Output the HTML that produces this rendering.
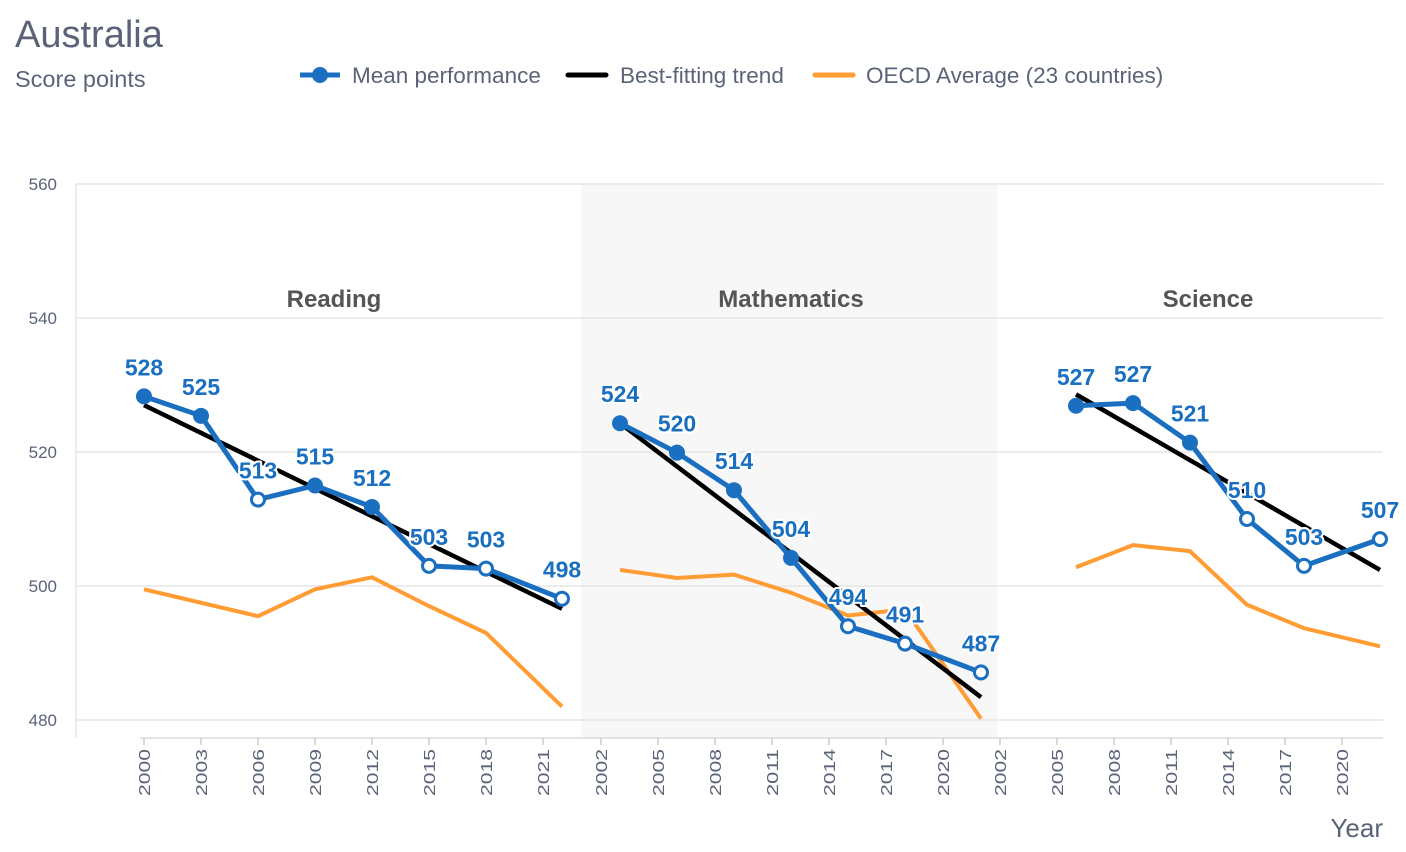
<!DOCTYPE html>
<html><head><meta charset="utf-8"><style>
body{margin:0;background:#fff;width:1406px;height:852px;overflow:hidden;font-family:"Liberation Sans",sans-serif}
svg{display:block}
</style></head><body>
<svg id="chart" width="1406" height="852" xmlns="http://www.w3.org/2000/svg" font-family="Liberation Sans, sans-serif">
<text x="15" y="47" font-size="38" fill="#5b6378">Australia</text>
<text x="15" y="87" font-size="23.5" fill="#5b6378">Score points</text>
<g>
<g><line x1="300" y1="75" x2="340" y2="75" stroke="#1a6fc0" stroke-width="5"/><circle cx="320" cy="75" r="8" fill="#1a6fc0"/><text x="352" y="83" font-size="22.5" fill="#5b6378">Mean performance</text></g>
<g><line x1="568" y1="75" x2="606" y2="75" stroke="#000" stroke-width="5" stroke-linecap="round"/><text x="620" y="83" font-size="22.5" fill="#5b6378">Best-fitting trend</text></g>
<g><line x1="815" y1="75" x2="853" y2="75" stroke="#ff9c33" stroke-width="5" stroke-linecap="round"/><text x="866" y="83" font-size="22.5" fill="#5b6378">OECD Average (23 countries)</text></g>
</g>
<rect x="581" y="184" width="417" height="554" fill="#f7f7f7"/>
<g id="grid"></g>
<g id="axes"></g>
<g id="series"></g>
<g id="labels"></g>
<text x="1383" y="837" font-size="26" fill="#5b6378" text-anchor="end">Year</text>
</svg>
<script>
const yTicks=[480,500,520,540,560];
const panelNames=["Reading","Mathematics","Science"];
const readYears=[2000,2003,2006,2009,2012,2015,2018,2022];
const readMean=[528.3,525.4,512.9,515,511.8,503,502.6,498.1];
const readSig=[1,1,0,1,1,0,0,0];
const readTrend=[527,496.6];
const readOecd=[499.5,497.5,495.5,499.5,501.3,497,493,482];
const mathYears=[2003,2006,2009,2012,2015,2018,2022];
const mathMean=[524.3,519.9,514.3,504.2,494,491.4,487.1];
const mathSig=[1,1,1,1,0,0,0];
const mathTrend=[524.3,483.4];
const mathOecd=[502.4,501.2,501.7,499,495.6,496.5,480.2];
const sciYears=[2006,2009,2012,2015,2018,2022];
const sciMean=[526.9,527.3,521.4,510,503,507];
const sciSig=[1,1,1,0,0,0];
const sciTrend=[528.6,502.4];
const sciOecd=[502.8,506.1,505.2,497.2,493.7,491];
const tickLabels=[[2000,2003,2006,2009,2012,2015,2018,2021],[2002,2005,2008,2011,2014,2017,2020],[2002,2005,2008,2011,2014,2017,2020]];

const NS="http://www.w3.org/2000/svg";
const y0=720,y1=184,v0=480,v1=560;
function yS(v){return y0+(v-v0)*(y1-y0)/(v1-v0);}
const pxYear=19;
const panelStart=[[2000,144],[2002,601],[2002,1000]];
function xS(p,yr){return panelStart[p][1]+(yr-panelStart[p][0])*pxYear;}
function mk(tag,attrs,parent){const e=document.createElementNS(NS,tag);for(const k in attrs)e.setAttribute(k,attrs[k]);parent.appendChild(e);return e;}
const grid=document.getElementById('grid'),axes=document.getElementById('axes'),series=document.getElementById('series'),labels=document.getElementById('labels');
yTicks.forEach(t=>{
 const l=mk('line',{x1:76,x2:1383,y1:yS(t),y2:yS(t),stroke:'#e6e6e6','stroke-width':1.5},grid);
 
 
 const tx=mk('text',{x:57,y:yS(t)+6,'font-size':17,fill:'#5b6378','text-anchor':'end'},axes);
 tx.textContent=t;
 
 
});
const ax=mk('line',{x1:76,x2:76,y1:184,y2:738,stroke:'#e6e6e6','stroke-width':1.5},axes);


const xa=mk('line',{x1:140,x2:1383,y1:738,y2:738,stroke:'#dcdcdc','stroke-width':1.5},axes);


const drawn={};
tickLabels.forEach((arr,p)=>arr.forEach(yr=>{
 const x=xS(p,yr);
 const key=Math.round(x);
 if(drawn[key])return;drawn[key]=1;
 const tk=mk('line',{x1:x,x2:x,y1:738,y2:745,stroke:'#ccc','stroke-width':1.5},axes);
 
 
 const t=mk('text',{x:0,y:0,'font-size':16,fill:'#5b6378','text-anchor':'end',textLength:47,lengthAdjust:'spacingAndGlyphs',transform:`translate(${x+6},749) rotate(-90)`},axes);
 t.textContent=yr;
 
 
}));
const titleX=[334,791,1208];
panelNames.forEach((n,i)=>{
 const t=mk('text',{x:titleX[i],y:307,'font-size':24,'font-weight':'bold',fill:'#555','text-anchor':'middle'},labels);
 t.textContent=n;
 
 
});
function drawPanel(p,name,years,mean,sig,trend,oecd){
 const oe=mk('polyline',{points:years.map((y,i)=>xS(p,y)+','+yS(oecd[i])).join(' '),fill:'none',stroke:'#ff9c33','stroke-width':4,'stroke-linejoin':'round'},series);
 
 
 const tr=mk('line',{x1:xS(p,years[0]),y1:yS(trend[0]),x2:xS(p,years[years.length-1]),y2:yS(trend[1]),stroke:'#000','stroke-width':4.5},series);
 
 
 const ml=mk('polyline',{points:years.map((y,i)=>xS(p,y)+','+yS(mean[i])).join(' '),fill:'none',stroke:'#1a6fc0','stroke-width':5,'stroke-linejoin':'round'},series);
 
 
 years.forEach((y,i)=>{
  const c=sig[i]?mk('circle',{cx:xS(p,y),cy:yS(mean[i]),r:8,fill:'#1a6fc0'},series):mk('circle',{cx:xS(p,y),cy:yS(mean[i]),r:6.5,fill:'#fff',stroke:'#1a6fc0','stroke-width':3},series);
  
  
  const t=mk('text',{x:xS(p,y),y:yS(mean[i])-21,'font-size':23,'font-weight':'bold',fill:'#1a6fc0','text-anchor':'middle',stroke:'#fff','stroke-width':4,'paint-order':'stroke','stroke-linejoin':'round'},labels);
  t.textContent=Math.round(mean[i]);
  
  
 });
}
drawPanel(0,'reading',readYears,readMean,readSig,readTrend,readOecd);
drawPanel(1,'mathematics',mathYears,mathMean,mathSig,mathTrend,mathOecd);
drawPanel(2,'science',sciYears,sciMean,sciSig,sciTrend,sciOecd);
</script>
</body></html>
